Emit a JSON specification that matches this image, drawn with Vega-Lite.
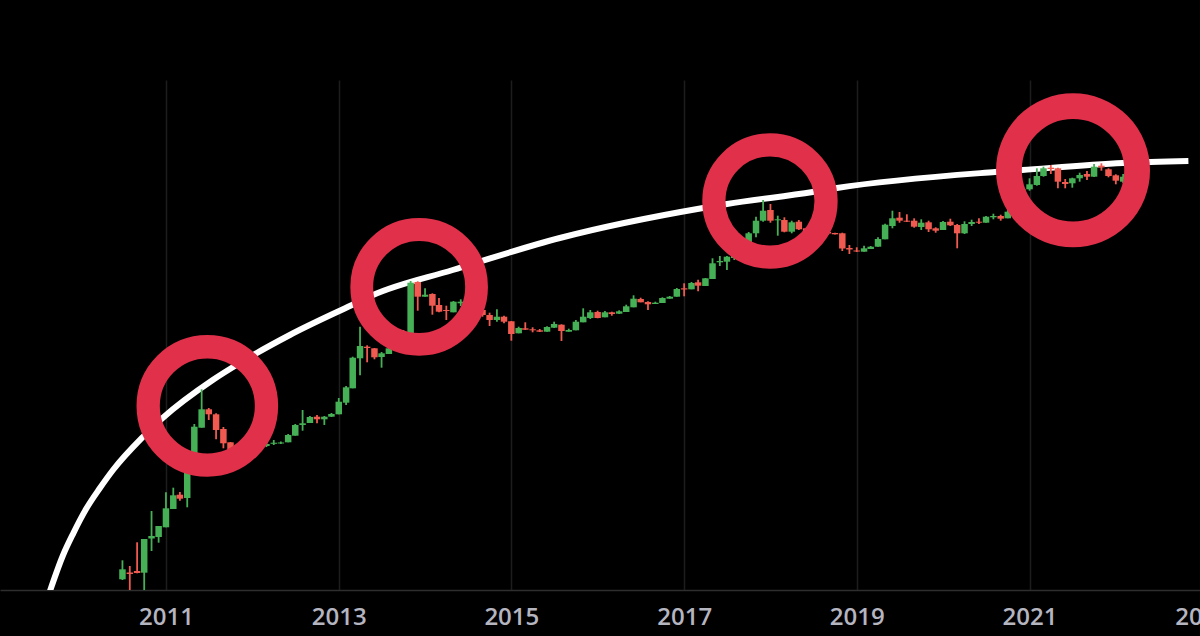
{
  "$schema": "https://vega.github.io/schema/vega-lite/v6.json",
  "width": 1204,
  "height": 510,
  "autosize": "none",
  "padding": {"left": 0, "right": -4, "top": 80, "bottom": 46},
  "background": "#000000",
  "datasets": {
    "curve": [
      {"date": "2009-08-27", "level": -2},
      {"date": "2009-10-23", "level": 35},
      {"date": "2009-12-05", "level": 56.7},
      {"date": "2010-01-30", "level": 81.7},
      {"date": "2010-03-27", "level": 101.7},
      {"date": "2010-05-22", "level": 120},
      {"date": "2010-09-25", "level": 153},
      {"date": "2010-12-18", "level": 172},
      {"date": "2011-07-18", "level": 210},
      {"date": "2011-11-09", "level": 227},
      {"date": "2012-06-08", "level": 255},
      {"date": "2013-02-26", "level": 285},
      {"date": "2013-05-26", "level": 295},
      {"date": "2014-04-28", "level": 320},
      {"date": "2015-07-25", "level": 352},
      {"date": "2017-03-22", "level": 382},
      {"date": "2017-07-01", "level": 386},
      {"date": "2018-06-29", "level": 398},
      {"date": "2018-10-09", "level": 402},
      {"date": "2020-08-08", "level": 418},
      {"date": "2020-12-01", "level": 420},
      {"date": "2022-02-01", "level": 427},
      {"date": "2022-11-04", "level": 429}
    ],
    "peaks": [
      {"peak": "2011", "date": "2011-06-25", "level": 184.1},
      {"peak": "2013", "date": "2013-12-07", "level": 303.1},
      {"peak": "2017", "date": "2017-12-30", "level": 389},
      {"peak": "2021", "date": "2021-07-04", "level": 419.7}
    ],
    "candles": [
      {"date":"2010-07-01","open":10.7,"close":20.7,"high":29.7,"low":10},
      {"date":"2010-08-01","open":17.5,"close":16,"high":24,"low":0},
      {"date":"2010-09-01","open":19,"close":17,"high":47.7,"low":16.7},
      {"date":"2010-10-01","open":17.3,"close":51,"high":51,"low":0},
      {"date":"2010-11-01","open":51.5,"close":54,"high":79,"low":39},
      {"date":"2010-12-01","open":53,"close":64,"high":64,"low":47.3},
      {"date":"2011-01-01","open":62.7,"close":81.7,"high":97.7,"low":62.7},
      {"date":"2011-02-01","open":81,"close":94.7,"high":102.3,"low":81},
      {"date":"2011-03-01","open":95.3,"close":91.3,"high":98,"low":89.3},
      {"date":"2011-04-01","open":92,"close":117,"high":117,"low":82.7},
      {"date":"2011-05-01","open":117,"close":163.3,"high":166,"low":117},
      {"date":"2011-06-01","open":162.3,"close":180.7,"high":200.7,"low":162.3},
      {"date":"2011-07-01","open":180.7,"close":175.7,"high":182,"low":170},
      {"date":"2011-08-01","open":175.7,"close":160,"high":176.7,"low":150.7},
      {"date":"2011-09-01","open":161,"close":146.7,"high":163,"low":141.7},
      {"date":"2011-10-01","open":147.7,"close":140,"high":148,"low":135},
      {"date":"2011-11-01","open":142,"close":137,"high":143,"low":133},
      {"date":"2011-12-01","open":138,"close":141,"high":143,"low":135},
      {"date":"2012-01-01","open":141,"close":144,"high":148,"low":139},
      {"date":"2012-02-01","open":144,"close":145,"high":146,"low":142},
      {"date":"2012-03-01","open":144,"close":146,"high":147,"low":143},
      {"date":"2012-04-01","open":146.2,"close":147.3,"high":150,"low":145},
      {"date":"2012-05-01","open":146.5,"close":147.5,"high":148.5,"low":146},
      {"date":"2012-06-01","open":147.7,"close":155,"high":156,"low":147.7},
      {"date":"2012-07-01","open":154.3,"close":165,"high":166,"low":154.3},
      {"date":"2012-08-01","open":165,"close":166.7,"high":180,"low":159.3},
      {"date":"2012-09-01","open":167,"close":173,"high":174,"low":167},
      {"date":"2012-10-01","open":173.3,"close":170.7,"high":175,"low":166.7},
      {"date":"2012-11-01","open":170.7,"close":173.3,"high":174,"low":165},
      {"date":"2012-12-01","open":173.3,"close":176,"high":177,"low":173},
      {"date":"2013-01-01","open":175.7,"close":188.3,"high":192,"low":175.7},
      {"date":"2013-02-01","open":187.3,"close":202.7,"high":204,"low":185},
      {"date":"2013-03-01","open":201.7,"close":232.3,"high":233.3,"low":201.7},
      {"date":"2013-04-01","open":231.7,"close":244,"high":263.3,"low":214.7},
      {"date":"2013-05-01","open":243.3,"close":242,"high":244.7,"low":227.7},
      {"date":"2013-06-01","open":241.7,"close":232.7,"high":242,"low":230.7},
      {"date":"2013-07-01","open":233,"close":236.7,"high":238,"low":222.3},
      {"date":"2013-08-01","open":236,"close":241.7,"high":244,"low":236},
      {"date":"2013-09-01","open":242,"close":245,"high":247,"low":240},
      {"date":"2013-10-01","open":245,"close":257,"high":260,"low":243},
      {"date":"2013-11-01","open":255,"close":307.3,"high":309,"low":255},
      {"date":"2013-12-01","open":308,"close":293.3,"high":308.7,"low":279.3},
      {"date":"2014-01-01","open":293.3,"close":295.3,"high":301.7,"low":293.3},
      {"date":"2014-02-01","open":296,"close":284.3,"high":296.7,"low":275.3},
      {"date":"2014-03-01","open":285,"close":278.3,"high":292,"low":277.7},
      {"date":"2014-04-01","open":280,"close":279,"high":284.3,"low":270},
      {"date":"2014-05-01","open":277.7,"close":288.3,"high":289,"low":277.7},
      {"date":"2014-06-01","open":286.7,"close":288.3,"high":290.7,"low":284},
      {"date":"2014-07-01","open":288,"close":284,"high":289,"low":282},
      {"date":"2014-08-01","open":285,"close":278,"high":286,"low":275},
      {"date":"2014-09-01","open":280,"close":275,"high":281,"low":273.3},
      {"date":"2014-10-01","open":275,"close":270,"high":277.3,"low":264},
      {"date":"2014-11-01","open":270,"close":273.3,"high":280.7,"low":268.3},
      {"date":"2014-12-01","open":273.3,"close":268.3,"high":274.3,"low":266.7},
      {"date":"2015-01-01","open":268.7,"close":256,"high":269,"low":249.3},
      {"date":"2015-02-01","open":256.7,"close":262,"high":263.3,"low":256.7},
      {"date":"2015-03-01","open":261.7,"close":260.3,"high":267.7,"low":260},
      {"date":"2015-04-01","open":260.7,"close":259.7,"high":262.7,"low":257.7},
      {"date":"2015-05-01","open":259.7,"close":258.3,"high":261,"low":258},
      {"date":"2015-06-01","open":258.3,"close":263,"high":263.7,"low":258.3},
      {"date":"2015-07-01","open":262.3,"close":266,"high":268.3,"low":262},
      {"date":"2015-08-01","open":265.3,"close":259,"high":265.7,"low":249},
      {"date":"2015-09-01","open":258.3,"close":260,"high":261.3,"low":258.3},
      {"date":"2015-10-01","open":259.7,"close":268.3,"high":270,"low":259.7},
      {"date":"2015-11-01","open":267.7,"close":273.3,"high":281.7,"low":267.7},
      {"date":"2015-12-01","open":272,"close":277.7,"high":280,"low":271},
      {"date":"2016-01-01","open":278,"close":272,"high":279.3,"low":271.7},
      {"date":"2016-02-01","open":272.7,"close":277.7,"high":279,"low":272.7},
      {"date":"2016-03-01","open":277.7,"close":276,"high":278.3,"low":274.3},
      {"date":"2016-04-01","open":276.3,"close":278.7,"high":279.7,"low":276},
      {"date":"2016-05-01","open":278,"close":283.7,"high":285.3,"low":278},
      {"date":"2016-06-01","open":282.7,"close":291.3,"high":294.7,"low":282.7},
      {"date":"2016-07-01","open":291,"close":287.7,"high":292.3,"low":287.7},
      {"date":"2016-08-01","open":288,"close":285.7,"high":288.7,"low":280},
      {"date":"2016-09-01","open":286,"close":287.3,"high":288.3,"low":286},
      {"date":"2016-10-01","open":287,"close":292,"high":292.7,"low":287},
      {"date":"2016-11-01","open":291.3,"close":293.3,"high":294,"low":291.3},
      {"date":"2016-12-01","open":293.3,"close":301,"high":302,"low":293.3},
      {"date":"2017-01-01","open":301.7,"close":300.5,"high":306.7,"low":293.7},
      {"date":"2017-02-01","open":300.7,"close":307,"high":308,"low":300.7},
      {"date":"2017-03-01","open":307.7,"close":304.3,"high":310.3,"low":298.7},
      {"date":"2017-04-01","open":304,"close":311.7,"high":312,"low":304},
      {"date":"2017-05-01","open":311,"close":326.7,"high":331.7,"low":311},
      {"date":"2017-06-01","open":327.7,"close":329,"high":334,"low":324},
      {"date":"2017-07-01","open":328.3,"close":333.3,"high":334,"low":320},
      {"date":"2017-08-01","open":332,"close":335,"high":337,"low":330},
      {"date":"2017-09-01","open":335,"close":345,"high":347,"low":333},
      {"date":"2017-10-01","open":345,"close":356.7,"high":358,"low":343},
      {"date":"2017-11-01","open":356.7,"close":369.3,"high":373.3,"low":352.7},
      {"date":"2017-12-01","open":369.3,"close":379.3,"high":390,"low":368.3},
      {"date":"2018-01-01","open":380,"close":369.3,"high":386,"low":367.3},
      {"date":"2018-02-01","open":369.7,"close":370.7,"high":374.3,"low":354.3},
      {"date":"2018-03-01","open":370,"close":358.3,"high":372.7,"low":357.7},
      {"date":"2018-04-01","open":358.3,"close":367.7,"high":369.3,"low":356.7},
      {"date":"2018-05-01","open":368.3,"close":360.7,"high":370,"low":360},
      {"date":"2018-06-01","open":361.7,"close":356,"high":362,"low":354},
      {"date":"2018-07-01","open":356,"close":360,"high":362,"low":354},
      {"date":"2018-08-01","open":360,"close":357,"high":364,"low":355},
      {"date":"2018-09-01","open":358,"close":356.5,"high":360,"low":355},
      {"date":"2018-10-01","open":357,"close":355.7,"high":357.3,"low":355.5},
      {"date":"2018-11-01","open":356.7,"close":341.5,"high":357.3,"low":339},
      {"date":"2018-12-01","open":342,"close":340.5,"high":345,"low":336},
      {"date":"2019-01-01","open":339.5,"close":338.5,"high":342.7,"low":338},
      {"date":"2019-02-01","open":338.3,"close":341.7,"high":344.3,"low":338.3},
      {"date":"2019-03-01","open":341,"close":343.3,"high":344,"low":341},
      {"date":"2019-04-01","open":343.3,"close":351,"high":352.7,"low":343.3},
      {"date":"2019-05-01","open":350.7,"close":365.3,"high":366.3,"low":350.7},
      {"date":"2019-06-01","open":364,"close":371.7,"high":379.3,"low":361.7},
      {"date":"2019-07-01","open":372.3,"close":369.3,"high":378,"low":367.3},
      {"date":"2019-08-01","open":369.3,"close":368.3,"high":375.7,"low":368},
      {"date":"2019-09-01","open":369.3,"close":363.3,"high":371.7,"low":362.3},
      {"date":"2019-10-01","open":363,"close":367.3,"high":370.7,"low":360},
      {"date":"2019-11-01","open":367.7,"close":360.7,"high":369.3,"low":358},
      {"date":"2019-12-01","open":361.7,"close":359.3,"high":362.7,"low":357.3},
      {"date":"2020-01-01","open":360,"close":368,"high":369,"low":360},
      {"date":"2020-02-01","open":368.3,"close":364.7,"high":371.3,"low":364},
      {"date":"2020-03-01","open":365,"close":356.7,"high":366,"low":341.7},
      {"date":"2020-04-01","open":356.7,"close":366,"high":368.7,"low":356},
      {"date":"2020-05-01","open":366,"close":368,"high":370.3,"low":364},
      {"date":"2020-06-01","open":368.3,"close":367.3,"high":371.7,"low":366},
      {"date":"2020-07-01","open":367.3,"close":373.3,"high":374,"low":367.3},
      {"date":"2020-08-01","open":372.7,"close":374,"high":376.3,"low":370.7},
      {"date":"2020-09-01","open":374,"close":371.3,"high":375.3,"low":369.3},
      {"date":"2020-10-01","open":371.7,"close":378.3,"high":380,"low":371.7},
      {"date":"2020-11-01","open":378,"close":390,"high":391,"low":378},
      {"date":"2020-12-01","open":390,"close":401,"high":404,"low":390},
      {"date":"2021-01-01","open":400.7,"close":405.7,"high":411.7,"low":399.3},
      {"date":"2021-02-01","open":405,"close":414,"high":421.7,"low":404.3},
      {"date":"2021-03-01","open":414,"close":421.7,"high":423.3,"low":413.3},
      {"date":"2021-04-01","open":422.3,"close":421,"high":425,"low":416},
      {"date":"2021-05-01","open":421.7,"close":408.3,"high":422.3,"low":401.7},
      {"date":"2021-06-01","open":408,"close":406,"high":411,"low":401.7},
      {"date":"2021-07-01","open":406.7,"close":411.7,"high":412.3,"low":402.3},
      {"date":"2021-08-01","open":411.7,"close":415,"high":417.3,"low":408.3},
      {"date":"2021-09-01","open":416,"close":413.3,"high":419,"low":410},
      {"date":"2021-10-01","open":413.3,"close":423.3,"high":426,"low":413},
      {"date":"2021-11-01","open":424.3,"close":422.7,"high":426.7,"low":419.3},
      {"date":"2021-12-01","open":420.7,"close":414,"high":421.7,"low":412.7},
      {"date":"2022-01-01","open":414.7,"close":409.3,"high":415.7,"low":405.7},
      {"date":"2022-02-01","open":408.3,"close":413.3,"high":416,"low":407}
    ]
  },
  "encoding": {
    "x": {
      "field": "date",
      "type": "temporal",
      "title": null,
      "scale": {"type": "utc", "domain": ["2009-01-29", "2023-01-09"], "padding": 0},
      "axis": {
        "values": [
          {"utc": true, "year": 2011},
          {"utc": true, "year": 2013},
          {"utc": true, "year": 2015},
          {"utc": true, "year": 2017},
          {"utc": true, "year": 2019},
          {"utc": true, "year": 2021},
          {"utc": true, "year": 2023}
        ],
        "format": "%Y",
        "grid": true,
        "gridColor": "#1d1d1d",
        "gridWidth": 1.5,
        "ticks": false,
        "domainColor": "#2e2e2e",
        "domainWidth": 1.5,
        "labelFont": "Open Sans",
        "labelFontSize": 24,
        "labelFontWeight": 600,
        "labelColor": "#b5b5c0",
        "labelPadding": 15,
        "labelAngle": 0,
        "labelBound": false,
        "labelFlush": false,
        "labelOverlap": false
      }
    }
  },
  "layer": [
    {
      "data": {"name": "curve"},
      "mark": {"type": "line", "color": "#ffffff", "strokeWidth": 6, "interpolate": "monotone", "clip": true},
      "encoding": {
        "y": {"field": "level", "type": "quantitative", "axis": null, "scale": {"domain": [0, 510], "nice": false, "zero": false}}
      }
    },
    {
      "data": {"name": "candles"},
      "mark": {"type": "rule", "strokeWidth": 1.8},
      "encoding": {
        "y": {"field": "low", "type": "quantitative", "axis": null},
        "y2": {"field": "high"},
        "color": {"condition": {"test": "datum.open < datum.close", "value": "#46b056"}, "value": "#f05a50"}
      }
    },
    {
      "data": {"name": "candles"},
      "mark": {"type": "bar", "size": 6.5},
      "encoding": {
        "y": {"field": "open", "type": "quantitative", "axis": null},
        "y2": {"field": "close"},
        "color": {"condition": {"test": "datum.open < datum.close", "value": "#46b056"}, "value": "#f05a50"}
      }
    },
    {
      "data": {"name": "peaks"},
      "mark": {"type": "point", "filled": false, "opacity": 1, "color": "#e0304a", "clip": false},
      "encoding": {
        "y": {"field": "level", "type": "quantitative", "axis": null},
        "size": {
          "field": "peak",
          "type": "ordinal",
          "legend": null,
          "scale": {"type": "ordinal", "domain": ["2011", "2013", "2017", "2021"], "range": [13996, 13179, 12589, 16435]}
        },
        "strokeWidth": {
          "field": "peak",
          "type": "ordinal",
          "legend": null,
          "scale": {"type": "ordinal", "domain": ["2011", "2013", "2017", "2021"], "range": [23.3, 22.8, 23.2, 25.8]}
        }
      }
    }
  ],
  "config": {"view": {"stroke": null}}
}
